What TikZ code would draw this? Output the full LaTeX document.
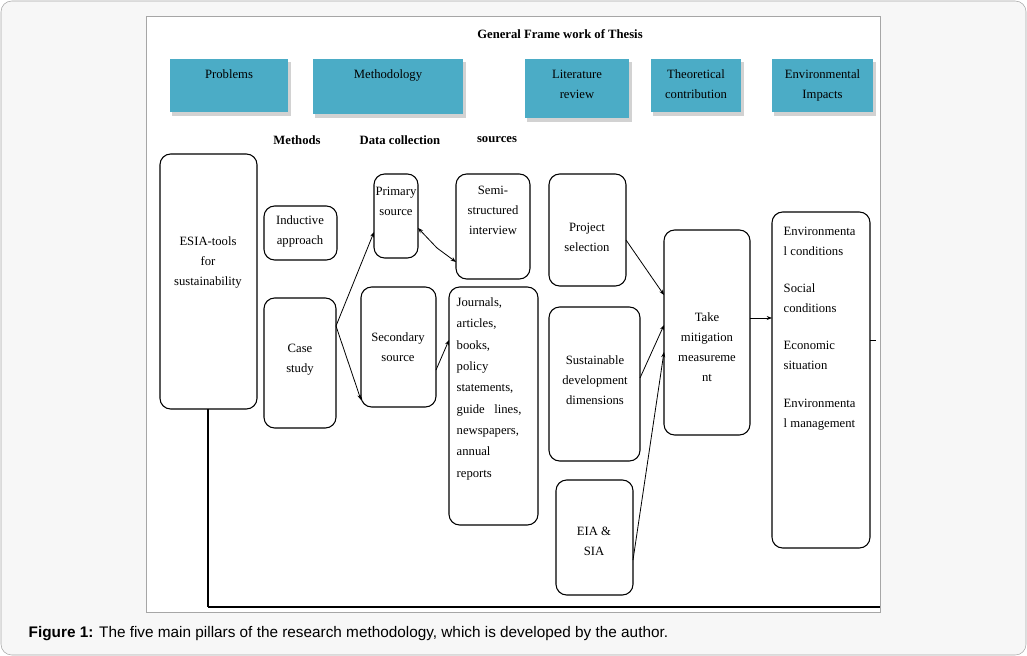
\documentclass[tikz,border=0pt]{standalone}
\usepackage{fontspec}
\setmainfont{Liberation Serif}
\newfontfamily\capfont{Liberation Sans}
\usetikzlibrary{arrows.meta}
\definecolor{teal1}{HTML}{4BACC6}
\begin{document}
\begin{tikzpicture}[x=0.75pt,y=-0.75pt,
  bx/.style={draw,line width=0.8pt,rounded corners=8pt},
  t/.style={font=\fontsize{9.5}{15}\selectfont,align=center},
  b/.style={font=\fontsize{9.5}{15}\bfseries,align=center},
  ar/.style={-{Stealth[length=4pt]},line width=0.6pt}]
\useasboundingbox (0,0) rectangle (1027,656);
\draw[gray!70,fill=gray!6,rounded corners=8pt] (1,1) rectangle (1026,655);
\draw[gray!70,fill=white] (146,16) rectangle (880,612);
\node[b] (title) at (560,34) {General Frame work of Thesis};
% header boxes
\foreach \n/\a/\b/\c/\d/\txt in {p/170/59/288/112/Problems, m/313/59/463/114/Methodology, l/525/59/629/118/Literature\\review, th/651/59/741/112/Theoretical\\contribution, e/772/59/873/112/Environmental\\Impacts}{
  \fill[gray!35] (\a+2,\b+3) rectangle (\c+3,\d+4);
  \fill[teal1] (\a,\b) rectangle (\c,\d);
  \node[t,anchor=north] (\n) at ({(\a+\c)/2},\b+6) {\txt};
}
\node[b] (mt) at (297,140) {Methods};
\node[b] (dc) at (400,140) {Data collection};
\node[b] (so) at (497,140) {sources};
% main boxes
\draw[bx] (160,154) rectangle (257,409); \node[t] (esia) at (208,262) {ESIA-tools\\for\\sustainability};
\draw[bx] (264,206) rectangle (337,260); \node[t] (ind) at (300,231) {Inductive\\approach};
\draw[bx] (264,298) rectangle (336,428); \node[t] (cs) at (300,360) {Case\\study};
\draw[bx] (374,174) rectangle (418,258); \node[t,anchor=north] (ps) at (396,182) {Primary\\source};
\draw[bx] (361,287) rectangle (436,407); \node[t] (ss) at (398,347) {Secondary\\source};
\draw[bx] (456,174) rectangle (530,279); \node[t,anchor=north] (semi) at (493,181) {Semi-\\structured\\interview};
\draw[bx] (449,287) rectangle (538,525); \node[t,anchor=north west,align=left,font=\fontsize{9.5}{16}\selectfont] (jr) at (452,293) {Journals,\\articles,\\books,\\policy\\statements,\\guide\ \ \ lines,\\newspapers,\\annual\\reports};
\draw[bx] (549,174) rectangle (626,286); \node[t] (pj) at (587,237) {Project\\selection};
\draw[bx] (549,307) rectangle (640,461); \node[t] (sd) at (595,380) {Sustainable\\development\\dimensions};
\draw[bx] (556,480) rectangle (633,595); \node[t] (eia) at (594,541) {EIA \&\\SIA};
\draw[bx] (664,230) rectangle (750,435); \node[t] (tk) at (707,347) {Take\\mitigation\\measureme\\nt};
\draw[bx] (772,212) rectangle (870,548); \node[t,anchor=north west,align=left] (env) at (779,222) {Environmenta\\l conditions\\[13pt]Social\\conditions\\[13pt]Economic\\situation\\[13pt]Environmenta\\l management};
% connectors
\coordinate (c0) at (336,326); \coordinate (p1) at (374,232); \coordinate (s1) at (361,400);
\draw[ar] (c0) -- (p1); \draw[ar] (c0) -- (s1);
\coordinate (p2) at (418,228); \coordinate (m2) at (437,248); \coordinate (sm) at (456,262);
\draw[ar] (m2) -- (p2); \draw[ar] (m2) -- (sm);
\coordinate (s2) at (436,370); \coordinate (j2) at (449,340);
\draw[ar] (s2) -- (j2);
\coordinate (pj2) at (626,240); \coordinate (t1) at (664,295);
\coordinate (sd2) at (640,378); \coordinate (t2) at (664,325);
\coordinate (eia2) at (633,560); \coordinate (t3) at (664,352);
\draw[ar] (pj2) -- (t1); \draw[ar] (sd2) -- (t2); \draw[ar] (eia2) -- (t3);
\coordinate (t4) at (750,318); \coordinate (e4) at (772,318);
\draw[ar] (t4) -- (e4);
\coordinate (e5) at (870,340); \coordinate (e6) at (876,340);
\draw (e5) -- (e6);
\coordinate (b1) at (208,409); \coordinate (b2) at (208,607); \coordinate (b3) at (880,607);
\draw[line width=0.8pt] (b1) -- (b2); \draw[line width=1.6pt] (b2) -- (b3);
\node[anchor=west,font=\capfont\fontsize{11.5}{13}\selectfont] (cap) at (24,634) {\textbf{Figure 1:} The five main pillars of the research methodology, which is developed by the author.};
\end{tikzpicture}
\end{document}
